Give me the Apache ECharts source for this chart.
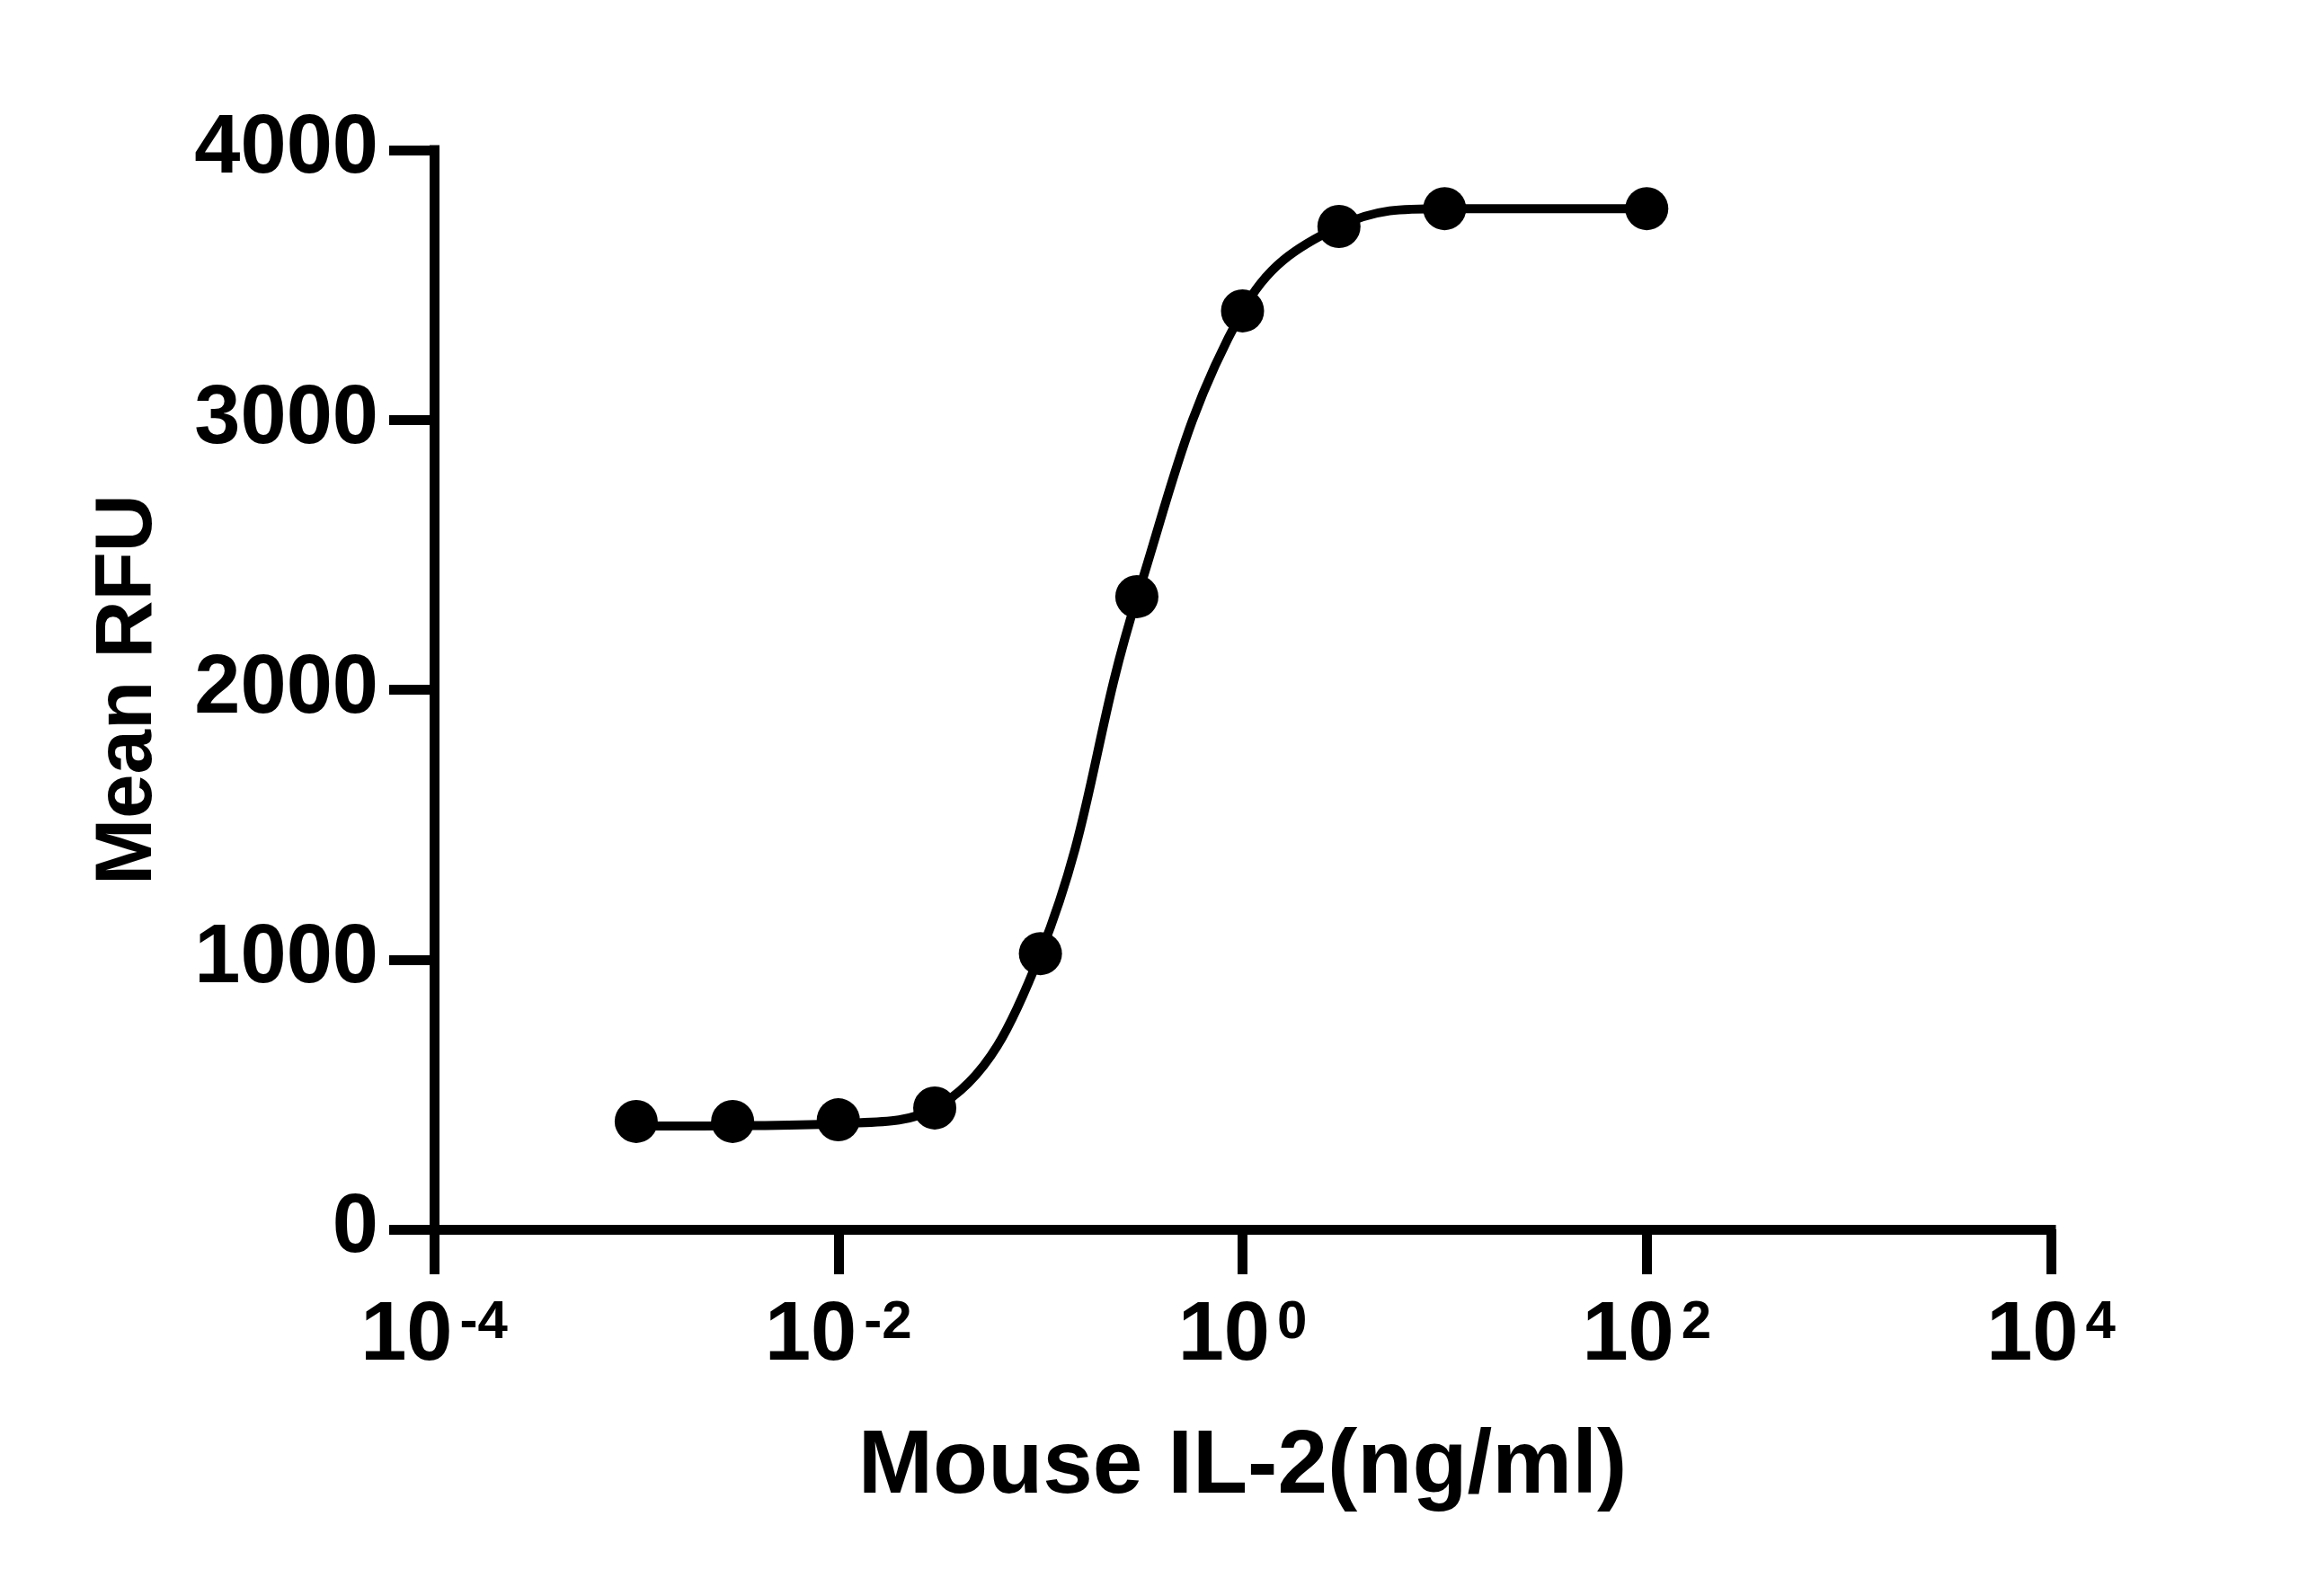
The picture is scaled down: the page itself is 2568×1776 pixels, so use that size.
<!DOCTYPE html>
<html>
<head>
<meta charset="utf-8">
<title>Mouse IL-2</title>
<script src="https://cdn.jsdelivr.net/npm/echarts@6/dist/echarts.min.js"></script>
<style>
  html, body { margin: 0; padding: 0; background: #fff; }
  #main { width: 2568px; height: 1776px; }
</style>
</head>
<body>
<div id="main"></div>
<script>
// concentration (ng/ml) of the measured points
var conc = [0.001, 0.003, 0.01, 0.03, 0.1, 0.3, 1, 3, 10, 100];
// measured Mean RFU
var rfu = [400, 400, 406, 450, 1022, 2345, 3404, 3717, 3783, 3783];
// fitted curve
var fitConc = [0.001, 0.003, 0.01, 0.03, 0.1, 0.3, 1, 3, 10, 100];
var fitRfu = [383, 384, 392, 448, 1022, 2340, 3404, 3717, 3783, 3783];
// tick labels
var yTicks = [0, 1000, 2000, 3000, 4000];
var xTickExp = [-4, -2, 0, 2, 4];

var font = "'Liberation Sans', Arial, sans-serif";

function pairs(xs, ys) {
  return xs.map(function (x, i) { return [x, ys[i]]; });
}

var chart = echarts.init(document.getElementById("main"));

var option = {
  backgroundColor: "#fff",
  animation: false,
  grid: {
    left: 483,
    right: 286,
    top: 167,
    bottom: 408
  },
  xAxis: {
    type: "log",
    logBase: 10,
    min: Math.pow(10, xTickExp[0]),
    max: Math.pow(10, xTickExp[xTickExp.length - 1]),
    interval: 2,
    name: "Mouse IL-2(ng/ml)",
    nameLocation: "middle",
    nameGap: 215,
    nameTextStyle: {
      color: "#000",
      fontSize: 100,
      fontWeight: "bold",
      fontFamily: font
    },
    axisLine: {
      lineStyle: { color: "#000", width: 11, cap: "square" }
    },
    axisTick: {
      length: 50,
      lineStyle: { color: "#000", width: 11 }
    },
    splitLine: { show: false },
    minorTick: { show: false },
    axisLabel: {
      margin: 74,
      formatter: function (v) {
        var e = Math.round(Math.log10(v));
        if (xTickExp.indexOf(e) < 0) return "";
        return "{b|10}{s|" + e + "}";
      },
      rich: {
        b: { fontSize: 92, fontWeight: "bold", fontFamily: font, color: "#000" },
        s: {
          fontSize: 60,
          lineHeight: 50,
          fontWeight: "bold",
          fontFamily: font,
          color: "#000",
          verticalAlign: "top",
          padding: [0, 0, 0, 8]
        }
      }
    }
  },
  yAxis: {
    type: "value",
    min: yTicks[0],
    max: yTicks[yTicks.length - 1],
    interval: yTicks[1] - yTicks[0],
    name: "Mean RFU",
    nameLocation: "middle",
    nameGap: 295,
    nameTextStyle: {
      color: "#000",
      fontSize: 89,
      fontWeight: "bold",
      fontFamily: font
    },
    axisLine: {
      show: true,
      lineStyle: { color: "#000", width: 11, cap: "square" }
    },
    axisTick: {
      show: true,
      length: 50,
      lineStyle: { color: "#000", width: 11 }
    },
    splitLine: { show: false },
    axisLabel: {
      margin: 62,
      color: "#000",
      fontSize: 92,
      fontWeight: "bold",
      fontFamily: font,
      formatter: function (v) { return String(v); }
    }
  },
  series: [
    {
      name: "fit",
      type: "line",
      data: pairs(fitConc, fitRfu),
      smooth: 0.4,
      symbol: "none",
      lineStyle: { color: "#000", width: 10 },
      z: 2
    },
    {
      name: "Mean RFU",
      type: "scatter",
      data: pairs(conc, rfu),
      symbol: "circle",
      symbolSize: 48,
      itemStyle: { color: "#000", opacity: 1 },
      z: 3
    }
  ]
};

chart.setOption(option);
</script>
</body>
</html>
